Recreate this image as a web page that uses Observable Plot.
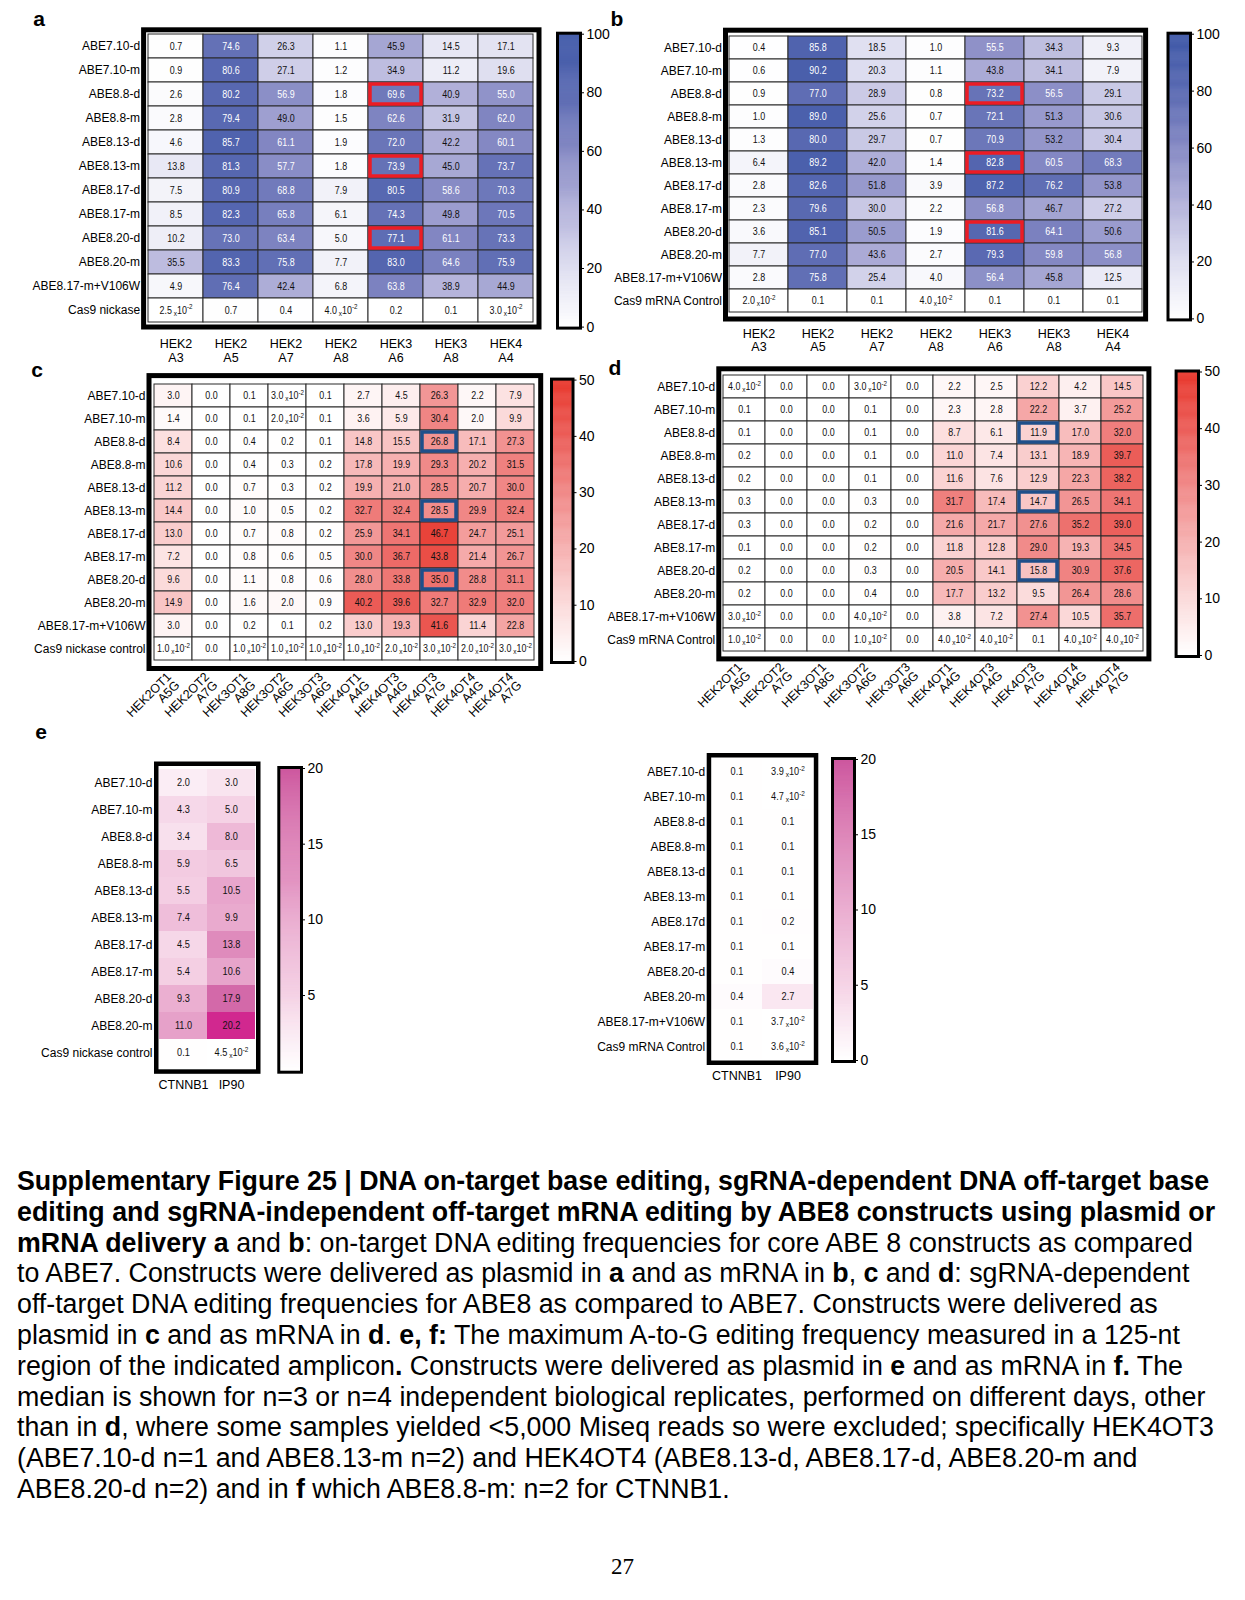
<!DOCTYPE html>
<html><head><meta charset="utf-8">
<script src="https://cdn.jsdelivr.net/npm/d3@7"></script>
<script src="https://cdn.jsdelivr.net/npm/@observablehq/plot@0.6"></script>
<style>
body{margin:0;background:#fff;}
#page{position:relative;width:1245px;height:1600px;overflow:hidden;font-family:"Liberation Sans",Arial,sans-serif;color:#000;}
#page svg{position:absolute;}
.plab{position:absolute;font-weight:bold;font-size:21px;line-height:1;transform:translate(-50%,-50%);}
#caption{position:absolute;left:17px;top:1166px;line-height:30.8px;color:#000;}
#caption div{white-space:nowrap;}
#pnum{position:absolute;left:0;width:1245px;text-align:center;top:1554px;font-family:"Liberation Serif","Times New Roman",serif;font-size:23px;}
</style></head><body><div id="page"></div>
<script>
// ---------- data ----------
const rowsA = ["ABE7.10-d","ABE7.10-m","ABE8.8-d","ABE8.8-m","ABE8.13-d","ABE8.13-m","ABE8.17-d","ABE8.17-m","ABE8.20-d","ABE8.20-m","ABE8.17-m+V106W","Cas9 nickase"];
const rowsB = ["ABE7.10-d","ABE7.10-m","ABE8.8-d","ABE8.8-m","ABE8.13-d","ABE8.13-m","ABE8.17-d","ABE8.17-m","ABE8.20-d","ABE8.20-m","ABE8.17-m+V106W","Cas9 mRNA Control"];
const rowsC = ["ABE7.10-d","ABE7.10-m","ABE8.8-d","ABE8.8-m","ABE8.13-d","ABE8.13-m","ABE8.17-d","ABE8.17-m","ABE8.20-d","ABE8.20-m","ABE8.17-m+V106W","Cas9 nickase control"];
const rowsD = rowsB;
const rowsE = ["ABE7.10-d","ABE7.10-m","ABE8.8-d","ABE8.8-m","ABE8.13-d","ABE8.13-m","ABE8.17-d","ABE8.17-m","ABE8.20-d","ABE8.20-m","Cas9 nickase control"];
const rowsF = ["ABE7.10-d","ABE7.10-m","ABE8.8-d","ABE8.8-m","ABE8.13-d","ABE8.13-m","ABE8.17d","ABE8.17-m","ABE8.20-d","ABE8.20-m","ABE8.17-m+V106W","Cas9 mRNA Control"];

const colsAB = ["HEK2\nA3","HEK2\nA5","HEK2\nA7","HEK2\nA8","HEK3\nA6","HEK3\nA8","HEK4\nA4"];
const colsCD = ["HEK2OT1\nA5G","HEK2OT2\nA7G","HEK3OT1\nA8G","HEK3OT2\nA6G","HEK3OT3\nA6G","HEK4OT1\nA4G","HEK4OT3\nA4G","HEK4OT3\nA7G","HEK4OT4\nA4G","HEK4OT4\nA7G"];
const colsEF = ["CTNNB1","IP90"];

const valuesA = [
  [0.7, 74.6, 26.3, 1.1, 45.9, 14.5, 17.1],
  [0.9, 80.6, 27.1, 1.2, 34.9, 11.2, 19.6],
  [2.6, 80.2, 56.9, 1.8, 69.6, 40.9, 55.0],
  [2.8, 79.4, 49.0, 1.5, 62.6, 31.9, 62.0],
  [4.6, 85.7, 61.1, 1.9, 72.0, 42.2, 60.1],
  [13.8, 81.3, 57.7, 1.8, 73.9, 45.0, 73.7],
  [7.5, 80.9, 68.8, 7.9, 80.5, 58.6, 70.3],
  [8.5, 82.3, 65.8, 6.1, 74.3, 49.8, 70.5],
  [10.2, 73.0, 63.4, 5.0, 77.1, 61.1, 73.3],
  [35.5, 83.3, 75.8, 7.7, 83.0, 64.6, 75.9],
  [4.9, 76.4, 42.4, 6.8, 63.8, 38.9, 44.9],
  [0.025, 0.7, 0.4, 0.04, 0.2, 0.1, 0.03]
];
const valuesB = [
  [0.4, 85.8, 18.5, 1.0, 55.5, 34.3, 9.3],
  [0.6, 90.2, 20.3, 1.1, 43.8, 34.1, 7.9],
  [0.9, 77.0, 28.9, 0.8, 73.2, 56.5, 29.1],
  [1.0, 89.0, 25.6, 0.7, 72.1, 51.3, 30.6],
  [1.3, 80.0, 29.7, 0.7, 70.9, 53.2, 30.4],
  [6.4, 89.2, 42.0, 1.4, 82.8, 60.5, 68.3],
  [2.8, 82.6, 51.8, 3.9, 87.2, 76.2, 53.8],
  [2.3, 79.6, 30.0, 2.2, 56.8, 46.7, 27.2],
  [3.6, 85.1, 50.5, 1.9, 81.6, 64.1, 50.6],
  [7.7, 77.0, 43.6, 2.7, 79.3, 59.8, 56.8],
  [2.8, 75.8, 25.4, 4.0, 56.4, 45.8, 12.5],
  [0.02, 0.1, 0.1, 0.04, 0.1, 0.1, 0.1]
];
const valuesC = [
  [3.0, 0.0, 0.1, 0.03, 0.1, 2.7, 4.5, 26.3, 2.2, 7.9],
  [1.4, 0.0, 0.1, 0.02, 0.1, 3.6, 5.9, 30.4, 2.0, 9.9],
  [8.4, 0.0, 0.4, 0.2, 0.1, 14.8, 15.5, 26.8, 17.1, 27.3],
  [10.6, 0.0, 0.4, 0.3, 0.2, 17.8, 19.9, 29.3, 20.2, 31.5],
  [11.2, 0.0, 0.7, 0.3, 0.2, 19.9, 21.0, 28.5, 20.7, 30.0],
  [14.4, 0.0, 1.0, 0.5, 0.2, 32.7, 32.4, 28.5, 29.9, 32.4],
  [13.0, 0.0, 0.7, 0.8, 0.2, 25.9, 34.1, 46.7, 24.7, 25.1],
  [7.2, 0.0, 0.8, 0.6, 0.5, 30.0, 36.7, 43.8, 21.4, 26.7],
  [9.6, 0.0, 1.1, 0.8, 0.6, 28.0, 33.8, 35.0, 28.8, 31.1],
  [14.9, 0.0, 1.6, 2.0, 0.9, 40.2, 39.6, 32.7, 32.9, 32.0],
  [3.0, 0.0, 0.2, 0.1, 0.2, 13.0, 19.3, 41.6, 11.4, 22.8],
  [0.01, 0.0, 0.01, 0.01, 0.01, 0.01, 0.02, 0.03, 0.02, 0.03]
];
const valuesD = [
  [0.04, 0.0, 0.0, 0.03, 0.0, 2.2, 2.5, 12.2, 4.2, 14.5],
  [0.1, 0.0, 0.0, 0.1, 0.0, 2.3, 2.8, 22.2, 3.7, 25.2],
  [0.1, 0.0, 0.0, 0.1, 0.0, 8.7, 6.1, 11.9, 17.0, 32.0],
  [0.2, 0.0, 0.0, 0.1, 0.0, 11.0, 7.4, 13.1, 18.9, 39.7],
  [0.2, 0.0, 0.0, 0.1, 0.0, 11.6, 7.6, 12.9, 22.3, 38.2],
  [0.3, 0.0, 0.0, 0.3, 0.0, 31.7, 17.4, 14.7, 26.5, 34.1],
  [0.3, 0.0, 0.0, 0.2, 0.0, 21.6, 21.7, 27.6, 35.2, 39.0],
  [0.1, 0.0, 0.0, 0.2, 0.0, 11.8, 12.8, 29.0, 19.3, 34.5],
  [0.2, 0.0, 0.0, 0.3, 0.0, 20.5, 14.1, 15.8, 30.9, 37.6],
  [0.2, 0.0, 0.0, 0.4, 0.0, 17.7, 13.2, 9.5, 26.4, 28.6],
  [0.03, 0.0, 0.0, 0.04, 0.0, 3.8, 7.2, 27.4, 10.5, 35.7],
  [0.01, 0.0, 0.0, 0.01, 0.0, 0.04, 0.04, 0.1, 0.04, 0.04]
];
const valuesE = [
  [2.0, 3.0], [4.3, 5.0], [3.4, 8.0], [5.9, 6.5], [5.5, 10.5], [7.4, 9.9],
  [4.5, 13.8], [5.4, 10.6], [9.3, 17.9], [11.0, 20.2], [0.1, 0.045]
];
const valuesF = [
  [0.1, 0.039], [0.1, 0.047], [0.1, 0.1], [0.1, 0.1], [0.1, 0.1], [0.1, 0.1],
  [0.1, 0.2], [0.1, 0.1], [0.1, 0.4], [0.4, 2.7], [0.1, 0.037], [0.1, 0.036]
];
// highlighted (boxed) cells
const highlightRows = ["ABE8.8-d","ABE8.13-m","ABE8.20-d"];
const highlightColAB = "HEK3\nA6";
const highlightColCD = "HEK4OT3\nA7G";

const ticksBlue = [0,20,40,60,80,100];
const ticksRed = [0,10,20,30,40,50];
const ticksPinkE = [5,10,15,20];
const ticksPinkF = [0,5,10,15,20];

// ---------- styles ----------
const blue = {type:"linear", domain:[0,20,40,60,80,100], range:["#ffffff","#dedef0","#b3b2da","#8488c3","#5868b1","#3c56a6"]};
const red = {type:"linear", domain:[0,10,20,30,40,50], range:["#ffffff","#fbdada","#f6b0b0","#f08786","#eb5c57","#e8362b"]};
const pink = {type:"linear", domain:[0,5,10,15,20,20.2], range:["#ffffff","#f5d2e5","#e9a9ce","#dc81b6","#cd589f","#d1288f"]};

const page = document.getElementById("page");
const cellFamily = "Liberation Sans";

function tidy(rows, cols, vals){
  const out = [];
  rows.forEach((r,i)=>cols.forEach((c,j)=>out.push({row:r, col:c, v:vals[i][j]})));
  return out;
}
function fmt(v){
  if (v === 0) return "0.0";
  if (v < 0.095) return (v*100).toFixed(1) + " x10-2";
  return v.toFixed(1);
}
// superscript exponent and horizontal condensing of the cell numbers
function finishCells(svg, fs, squeeze){
  const NS = "http://www.w3.org/2000/svg";
  svg.querySelectorAll('g[aria-label="text"] text').forEach(t=>{
    const m = t.textContent.match(/^(.*) x10-2$/);
    if (m && !t.children.length){
      t.textContent = m[1];
      const a = document.createElementNS(NS,"tspan"); a.setAttribute("font-size", fs*0.72); a.setAttribute("dy", fs*0.2); a.textContent = " x";
      const b = document.createElementNS(NS,"tspan"); b.setAttribute("dy", -fs*0.2); b.textContent = "10";
      const c = document.createElementNS(NS,"tspan"); c.setAttribute("font-size", fs*0.7); c.setAttribute("dy", -fs*0.42); c.textContent = "-2";
      t.append(a,b,c);
    }
    if (squeeze !== 1){
      let tr = t.getAttribute("transform") || "";
      const xa = t.getAttribute("x");
      if (xa !== null && isFinite(+xa)){
        tr = `translate(${+xa},0) ` + tr;
        t.removeAttribute("x");
      }
      t.setAttribute("transform", tr + ` scale(${squeeze},1)`);
    }
  });
}
function place(svg, L, T){ svg.style.left = L+"px"; svg.style.top = T+"px"; page.append(svg); }
const baseStyle = {background:"none", overflow:"visible", fontFamily:"Liberation Sans, Arial, sans-serif", fontSize:"12px", color:"#000"};

function heatmap({rows, cols, vals, color, box, area, grid=true, hlCol=null, hlColor=null, whiteAbove=Infinity, rotate=false, fs=10.5, squeeze=0.85, rowFont=12, frameW=5, xPad=8}){
  const [L,T,W,H] = box, [x0,y0,x1,y1] = area;
  const data = tidy(rows, cols, vals);
  const marks = [
    Plot.cell(data, {x:"col", y:"row", fill:"v", stroke: grid ? "#2a2a2a" : null, strokeWidth: grid ? 1 : 0}),
    Plot.text(data, {x:"col", y:"row", text:d=>fmt(d.v), fill:d=> d.v >= whiteAbove ? "#ffffff" : "#111111", fontSize: fs, fontFamily: cellFamily})
  ];
  if (hlCol) marks.push(Plot.cell(data.filter(d=>d.col===hlCol && highlightRows.includes(d.row)), {x:"col", y:"row", fill:"none", stroke:hlColor, strokeWidth:3.5, inset:2}));
  marks.push(Plot.frame({stroke:"#000", strokeWidth:frameW, inset:-frameW/2}));
  marks.push(Plot.axisY({tickSize:0, tickPadding:6, fontSize:rowFont, label:null}));
  if (rotate) marks.push(Plot.axisX({tickSize:0, tickPadding:xPad, tickRotate:-45, fontSize:12.5, lineHeight:0.95, label:null}));
  else marks.push(Plot.axisX({tickSize:0, tickPadding:xPad, fontSize:12.5, lineHeight:1.08, label:null}));
  const svg = Plot.plot({width:W, height:H, marginLeft:x0-L, marginRight:L+W-x1, marginTop:y0-T, marginBottom:T+H-y1,
    x:{domain:cols, padding:0, label:null}, y:{domain:rows, padding:0, label:null}, color, style:baseStyle, marks});
  finishCells(svg, fs, squeeze);
  place(svg, L, T);
}
function colorbar({max, ticks, color, box, area}){
  const [L,T,W,H] = box, [x0,y0,x1,y1] = area;
  const step = max/300;
  const ramp = d3.range(0, max, step);
  const svg = Plot.plot({width:W, height:H, marginLeft:x0-L, marginRight:L+W-x1, marginTop:y0-T, marginBottom:T+H-y1,
    x:{domain:[0,1], axis:null}, y:{domain:[0,max], label:null}, color, style:baseStyle,
    marks:[
      Plot.rect(ramp, {x1:0, x2:1, y1:d=>d, y2:d=>d+step, fill:d=>d+step/2, stroke:d=>d+step/2, strokeWidth:0.5}),
      Plot.frame({stroke:"#000", strokeWidth:3, inset:-1}),
      Plot.axisY({anchor:"right", ticks, tickSize:4, tickPadding:3, fontSize:14, label:null, tickFormat:d=>String(d)})
    ]});
  place(svg, L, T);
}

// ---------- panels ----------
heatmap({rows:rowsA, cols:colsAB, vals:valuesA, color:blue, box:[0,20,560,350], area:[145.6,31.8,536,324], hlCol:highlightColAB, hlColor:"#ec1c24", whiteAbove:55, xPad:14});
colorbar({max:100, ticks:ticksBlue, color:blue, box:[550,20,70,320], area:[558,33.7,579,326.6]});

heatmap({rows:rowsB, cols:colsAB, vals:valuesB, color:blue, box:[600,20,600,340], area:[727.5,32.2,1142.6,316], hlCol:highlightColAB, hlColor:"#ec1c24", whiteAbove:55, xPad:11.5});
colorbar({max:100, ticks:ticksBlue, color:blue, box:[1160,20,80,310], area:[1168.5,33.7,1189,318.4]});

heatmap({rows:rowsC, cols:colsCD, vals:valuesC, color:red, box:[0,365,560,370], area:[151,377.6,537.7,665.5], hlCol:highlightColCD, hlColor:"#1f4f8a", rotate:true, xPad:13});
colorbar({max:50, ticks:ticksRed, color:red, box:[545,365,70,310], area:[552,379.6,571.5,661]});

heatmap({rows:rowsD, cols:colsCD, vals:valuesD, color:red, box:[600,360,580,370], area:[720.8,370.8,1145.9,655.9], hlCol:highlightColCD, hlColor:"#1f4f8a", rotate:true, xPad:13});
colorbar({max:50, ticks:ticksRed, color:red, box:[1170,360,70,310], area:[1176.6,371.5,1197,655]});

heatmap({rows:rowsE, cols:colsEF, vals:valuesE, color:pink, box:[0,755,280,350], area:[158,765.5,255.5,1068.8], grid:false, fs:10, squeeze:0.92, frameW:4.5, xPad:10});
colorbar({max:20, ticks:ticksPinkE, color:pink, box:[272,755,70,330], area:[279.3,768,300,1070.7]});

heatmap({rows:rowsF, cols:colsEF, vals:valuesF, color:pink, box:[560,745,270,345], area:[710.7,757,813.3,1060], grid:false, fs:10, squeeze:0.92, frameW:4.5, xPad:10});
colorbar({max:20, ticks:ticksPinkF, color:pink, box:[826,745,70,330], area:[833,759,853,1060]});

// ---------- panel letters ----------
[["a",39,18],["b",617,18],["c",37,369],["d",615,367],["e",41,731]].forEach(([t,x,y])=>{
  const d = document.createElement("div"); d.className="plab"; d.textContent=t; d.style.left=x+"px"; d.style.top=y+"px"; page.append(d);
});

// ---------- caption ----------
const captionLines = [
  "<b>Supplementary Figure 25 | DNA on-target base editing, sgRNA-dependent DNA off-target base</b>",
  "<b>editing and sgRNA-independent off-target mRNA editing by ABE8 constructs using plasmid or</b>",
  "<b>mRNA delivery a</b> and <b>b</b>: on-target DNA editing frequencies for core ABE 8 constructs as compared",
  "to ABE7. Constructs were delivered as plasmid in <b>a</b> and as mRNA in <b>b</b>, <b>c</b> and <b>d</b>: sgRNA-dependent",
  "off-target DNA editing frequencies for ABE8 as compared to ABE7. Constructs were delivered as",
  "plasmid in <b>c</b> and as mRNA in <b>d</b>. <b>e, f:</b> The maximum A-to-G editing frequency measured in a 125-nt",
  "region of the indicated amplicon<b>.</b> Constructs were delivered as plasmid in <b>e</b> and as mRNA in <b>f.</b> The",
  "median is shown for n=3 or n=4 independent biological replicates, performed on different days, other",
  "than in <b>d</b>, where some samples yielded &lt;5,000 Miseq reads so were excluded; specifically HEK4OT3",
  "(ABE7.10-d n=1 and ABE8.13-m n=2) and HEK4OT4 (ABE8.13-d, ABE8.17-d, ABE8.20-m and",
  "ABE8.20-d n=2) and in <b>f</b> which ABE8.8-m: n=2 for CTNNB1."
];
const cap = document.createElement("div"); cap.id = "caption";
cap.innerHTML = captionLines.map(l=>`<div>${l}</div>`).join("");
page.append(cap);
{
  const c = document.createElement("canvas").getContext("2d");
  c.font = 'bold 25px "Liberation Sans"';
  const w = c.measureText("Supplementary Figure 25 | DNA on-target base editing, sgRNA-dependent DNA off-target base").width;
  cap.style.fontSize = (25*1195/w).toFixed(2)+"px";
}
const pn = document.createElement("div"); pn.id="pnum"; pn.textContent="27"; page.append(pn);
</script></body></html>
